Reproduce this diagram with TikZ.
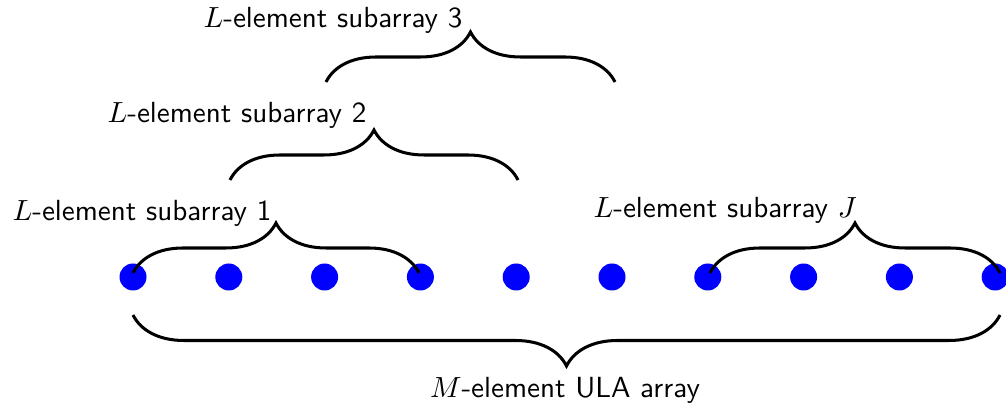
\RequirePackage{fix-cm}
\documentclass[tikz,border=0pt]{standalone}
\usetikzlibrary{decorations.pathreplacing}
\begin{document}
\begin{tikzpicture}[x=0.3635pt,y=-0.3635pt,
  elem/.style={circle,fill=blue,draw=none,minimum size=27*0.3635pt,inner sep=0pt},
  bracetop/.style={decorate,decoration={brace,amplitude=50*0.3635pt},line width=1.1pt},
  bracebot/.style={decorate,decoration={brace,amplitude=51*0.3635pt},line width=1.1pt},
  lbl/.style={inner sep=0pt,font=\fontsize{10.58}{13}\selectfont\sffamily}]
\useasboundingbox (0,0) rectangle (1006,409);
\foreach \i in {1,...,10}{
  \node[elem] (d\i) at ({133+95.8*(\i-1)},277) {};
}
% brace end points
\coordinate (a1) at (133,273); \coordinate (b1) at (419,273);
\coordinate (a2) at (230,180); \coordinate (b2) at (518,180);
\coordinate (a3) at (326,82);  \coordinate (b3) at (615,82);
\coordinate (aJ) at (710,273); \coordinate (bJ) at (1000,273);
\coordinate (aM) at (133,315); \coordinate (bM) at (1000,315);
\draw[bracetop] (a1) -- (b1);
\draw[bracetop] (a2) -- (b2);
\draw[bracetop] (a3) -- (b3);
\draw[bracetop] (aJ) -- (bJ);
\draw[bracebot] (bM) -- (aM);
\node[lbl,anchor=base west] (l1) at (12,221) {$L$-element subarray 1};
\node[lbl,anchor=base west] (l2) at (107,123) {$L$-element subarray 2};
\node[lbl,anchor=base west] (l3) at (203,28) {$L$-element subarray 3};
\node[lbl,anchor=base west] (lJ) at (593,218) {$L$-element subarray $J$};
\node[lbl,anchor=base] (lM) at (565,398) {$M$-element ULA array};
\end{tikzpicture}
\end{document}
